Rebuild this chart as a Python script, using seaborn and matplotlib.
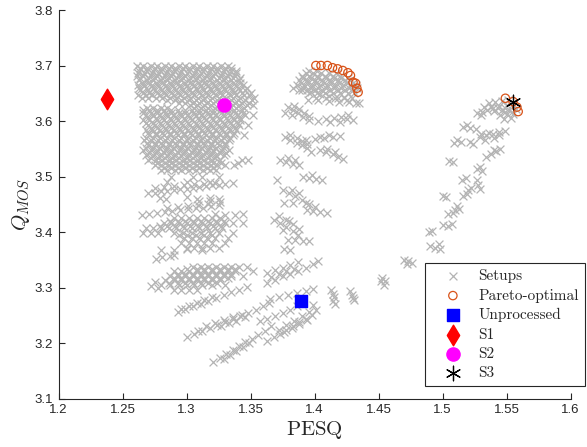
import matplotlib
matplotlib.use("Agg")
import matplotlib.pyplot as plt
import seaborn as sns
import pandas as pd

# ---------------- data (PESQ, Q_MOS) ----------------
# left cluster: rows of setups (Q_MOS level, PESQ values)
left_rows = [
    (3.700, [1.261, 1.266, 1.272, 1.277, 1.283, 1.288, 1.294, 1.299, 1.305, 1.310, 1.316, 1.321, 1.327, 1.332]),
    (3.696, [1.264, 1.269, 1.275, 1.280, 1.286, 1.291, 1.297, 1.302, 1.308, 1.313, 1.319, 1.324, 1.330, 1.335]),
    (3.691, [1.263, 1.269, 1.274, 1.280, 1.285, 1.291, 1.296, 1.302, 1.307, 1.313, 1.318, 1.324, 1.329, 1.335, 1.339]),
    (3.687, [1.262, 1.267, 1.273, 1.278, 1.284, 1.289, 1.295, 1.300, 1.306, 1.311, 1.317, 1.322, 1.328, 1.333, 1.339]),
    (3.682, [1.261, 1.266, 1.272, 1.277, 1.283, 1.288, 1.294, 1.299, 1.305, 1.310, 1.316, 1.321, 1.327, 1.332, 1.338]),
    (3.678, [1.264, 1.270, 1.275, 1.281, 1.286, 1.292, 1.297, 1.303, 1.308, 1.314, 1.319, 1.325, 1.330, 1.336, 1.342]),
    (3.673, [1.263, 1.269, 1.274, 1.280, 1.285, 1.291, 1.296, 1.302, 1.307, 1.313, 1.318, 1.324, 1.329, 1.335, 1.341]),
    (3.669, [1.265, 1.270, 1.276, 1.281, 1.287, 1.292, 1.298, 1.303, 1.309, 1.314, 1.320, 1.325, 1.331, 1.336, 1.342]),
    (3.664, [1.262, 1.267, 1.273, 1.278, 1.284, 1.289, 1.295, 1.300, 1.306, 1.311, 1.317, 1.322, 1.328, 1.333, 1.339, 1.344]),
    (3.660, [1.263, 1.268, 1.274, 1.279, 1.285, 1.290, 1.296, 1.301, 1.307, 1.312, 1.318, 1.323, 1.329, 1.334, 1.340, 1.347]),
    (3.655, [1.264, 1.270, 1.275, 1.281, 1.286, 1.292, 1.297, 1.303, 1.308, 1.314, 1.319, 1.325, 1.330, 1.336, 1.342, 1.346]),
    (3.651, [1.266, 1.271, 1.277, 1.282, 1.288, 1.293, 1.299, 1.304, 1.310, 1.315, 1.321, 1.326, 1.332, 1.337, 1.343, 1.350]),
    (3.646, [1.262, 1.268, 1.273, 1.279, 1.284, 1.290, 1.295, 1.301, 1.306, 1.312, 1.317, 1.323, 1.328, 1.334, 1.339, 1.345, 1.349]),
    (3.642, [1.265, 1.270, 1.276, 1.281, 1.287, 1.292, 1.298, 1.303, 1.309, 1.314, 1.320, 1.325, 1.331, 1.336, 1.342, 1.353]),
    (3.637, [1.285, 1.291, 1.296, 1.302, 1.307, 1.313, 1.318, 1.324, 1.329, 1.335, 1.340, 1.346, 1.351]),
    (3.633, [1.294, 1.299, 1.305, 1.310, 1.316, 1.321, 1.327, 1.332, 1.338, 1.343, 1.349]),
    (3.628, [1.303, 1.308, 1.314, 1.319, 1.325, 1.330, 1.336, 1.341, 1.347, 1.352]),
    (3.624, [1.269, 1.274, 1.280, 1.285, 1.306, 1.311, 1.317, 1.322, 1.328, 1.333, 1.339, 1.345]),
    (3.619, [1.266, 1.271, 1.277, 1.282, 1.288, 1.293, 1.299, 1.304, 1.310, 1.315, 1.321, 1.326, 1.332, 1.337, 1.343]),
    (3.615, [1.266, 1.272, 1.277, 1.283, 1.288, 1.294, 1.299, 1.305, 1.310, 1.316, 1.321, 1.327, 1.332, 1.338, 1.344]),
    (3.610, [1.268, 1.274, 1.279, 1.285, 1.290, 1.296, 1.301, 1.307, 1.312, 1.318, 1.323, 1.329, 1.334, 1.340, 1.346, 1.352]),
    (3.606, [1.270, 1.276, 1.281, 1.287, 1.292, 1.298, 1.303, 1.309, 1.314, 1.320, 1.325, 1.331, 1.336, 1.342]),
    (3.601, [1.266, 1.271, 1.277, 1.282, 1.288, 1.293, 1.299, 1.304, 1.310, 1.315, 1.321, 1.326, 1.332, 1.337, 1.342]),
    (3.597, [1.268, 1.274, 1.279, 1.285, 1.290, 1.296, 1.301, 1.307, 1.312, 1.318, 1.323, 1.329, 1.334, 1.340]),
    (3.592, [1.270, 1.275, 1.281, 1.286, 1.292, 1.297, 1.303, 1.308, 1.314, 1.319, 1.325, 1.330, 1.336, 1.341, 1.348]),
    (3.588, [1.272, 1.277, 1.283, 1.288, 1.294, 1.299, 1.305, 1.310, 1.316, 1.321, 1.327, 1.332, 1.338]),
    (3.583, [1.268, 1.273, 1.279, 1.284, 1.290, 1.295, 1.301, 1.306, 1.312, 1.317, 1.323, 1.328, 1.334, 1.339]),
    (3.579, [1.270, 1.276, 1.281, 1.287, 1.292, 1.298, 1.303, 1.309, 1.314, 1.320, 1.325, 1.331, 1.337]),
    (3.574, [1.271, 1.276, 1.282, 1.287, 1.293, 1.298, 1.304, 1.309, 1.315, 1.320, 1.326, 1.331, 1.336, 1.345]),
    (3.570, [1.268, 1.274, 1.279, 1.285, 1.290, 1.296, 1.301, 1.307, 1.312, 1.318, 1.323, 1.329, 1.334]),
    (3.565, [1.267, 1.272, 1.278, 1.283, 1.289, 1.294, 1.300, 1.305, 1.311, 1.316, 1.322, 1.327, 1.333]),
    (3.561, [1.269, 1.275, 1.280, 1.286, 1.291, 1.297, 1.302, 1.308, 1.313, 1.319, 1.324, 1.330]),
    (3.557, [1.270, 1.275, 1.281, 1.286, 1.292, 1.297, 1.303, 1.308, 1.314, 1.319, 1.325, 1.330]),
    (3.552, [1.268, 1.274, 1.279, 1.285, 1.290, 1.296, 1.301, 1.307, 1.312, 1.318, 1.323, 1.329]),
    (3.548, [1.266, 1.272, 1.277, 1.283, 1.288, 1.294, 1.299, 1.305, 1.310, 1.316, 1.321, 1.327, 1.333]),
    (3.543, [1.271, 1.276, 1.282, 1.287, 1.293, 1.298, 1.304, 1.309, 1.315, 1.320, 1.326, 1.331]),
    (3.539, [1.268, 1.274, 1.279, 1.285, 1.290, 1.296, 1.301, 1.307, 1.312, 1.318, 1.323, 1.329]),
    (3.534, [1.272, 1.278, 1.283, 1.289, 1.294, 1.300, 1.305, 1.311, 1.317, 1.322]),
    (3.530, [1.270, 1.276, 1.281, 1.287, 1.292, 1.298, 1.303, 1.309, 1.314, 1.320, 1.326, 1.343, 1.348]),
    (3.525, [1.277, 1.283, 1.288, 1.294, 1.299, 1.305, 1.310, 1.316, 1.321, 1.327, 1.340]),
    (3.521, [1.275, 1.280, 1.286, 1.291, 1.297, 1.302, 1.308, 1.313, 1.319, 1.324, 1.330, 1.337]),
    (3.516, [1.282, 1.288, 1.293, 1.299, 1.304, 1.310, 1.316, 1.321]),
    (3.512, [1.280, 1.285, 1.291, 1.296, 1.302, 1.307, 1.313, 1.318, 1.323]),
    (3.500, [1.288, 1.305, 1.312, 1.325]),
    (3.490, [1.285, 1.300, 1.318]),
    (3.425, [1.290, 1.296, 1.302, 1.308, 1.314, 1.320, 1.326]),
    (3.420, [1.287, 1.293, 1.299, 1.305, 1.311, 1.317, 1.323, 1.329]),
    (3.416, [1.282, 1.288, 1.294, 1.300, 1.306, 1.312, 1.318, 1.324, 1.330, 1.336, 1.344]),
    (3.411, [1.279, 1.285, 1.291, 1.297, 1.303, 1.309, 1.315, 1.321, 1.327]),
    (3.407, [1.268, 1.274, 1.280, 1.286, 1.292, 1.298, 1.304, 1.310, 1.316, 1.322, 1.328]),
    (3.399, [1.266, 1.272, 1.278, 1.290, 1.297, 1.304, 1.311, 1.318, 1.325, 1.336]),
    (3.394, [1.294, 1.300, 1.307, 1.314, 1.320]),
    (3.390, [1.298, 1.304, 1.310, 1.316, 1.322, 1.332]),
    (3.381, [1.296, 1.302, 1.308, 1.314, 1.320, 1.330]),
    (3.372, [1.300, 1.306, 1.312, 1.318, 1.325]),
    (3.368, [1.280, 1.290]),
    (3.337, [1.305, 1.311, 1.317, 1.323, 1.329, 1.335, 1.341, 1.347]),
    (3.333, [1.300, 1.308, 1.314, 1.320, 1.326, 1.332, 1.338]),
    (3.329, [1.290, 1.296, 1.302, 1.308, 1.314, 1.320, 1.326, 1.332, 1.338, 1.352]),
    (3.325, [1.293, 1.299, 1.305, 1.311, 1.317, 1.323, 1.329, 1.335]),
    (3.321, [1.287, 1.293, 1.299, 1.305, 1.311, 1.317, 1.323, 1.329, 1.335, 1.344]),
    (3.317, [1.290, 1.296, 1.302, 1.308, 1.314, 1.320, 1.326, 1.332]),
    (3.313, [1.283, 1.290, 1.296, 1.302, 1.308, 1.314, 1.320, 1.326]),
    (3.308, [1.286, 1.293, 1.299, 1.305, 1.311, 1.317, 1.324]),
    (3.304, [1.280, 1.287, 1.294, 1.300, 1.306, 1.312, 1.320, 1.330]),
    (3.295, [1.290, 1.296, 1.302, 1.308]),
]

# individual setups (sloped strands)
left_points = [
    (1.270, 3.470), (1.275, 3.471), (1.280, 3.473), (1.285, 3.474), (1.290, 3.476), (1.295, 3.477),
    (1.300, 3.478), (1.305, 3.480), (1.310, 3.481), (1.315, 3.483), (1.320, 3.484), (1.325, 3.485),
    (1.330, 3.486), (1.336, 3.488), (1.275, 3.479), (1.282, 3.481), (1.290, 3.482), (1.298, 3.484),
    (1.306, 3.486), (1.314, 3.487), (1.322, 3.489),
    (1.279, 3.462), (1.284, 3.460), (1.300, 3.463), (1.308, 3.460), (1.318, 3.462), (1.325, 3.459),
    (1.265, 3.431), (1.271, 3.432), (1.277, 3.434), (1.283, 3.436), (1.289, 3.437), (1.295, 3.439),
    (1.301, 3.441), (1.307, 3.443), (1.313, 3.444), (1.319, 3.446), (1.325, 3.448),
    (1.285, 3.443), (1.293, 3.445), (1.301, 3.447), (1.309, 3.449), (1.317, 3.450),
    (1.310, 3.455), (1.318, 3.455), (1.326, 3.454),
    (1.322, 3.432), (1.330, 3.431), (1.338, 3.430), (1.344, 3.432),
    (1.276, 3.352), (1.281, 3.355), (1.287, 3.357), (1.290, 3.359), (1.300, 3.369), (1.312, 3.368),
    (1.275, 3.310), (1.272, 3.303), (1.278, 3.300),
    (1.293, 3.256), (1.299, 3.261), (1.305, 3.266), (1.311, 3.271), (1.317, 3.276), (1.323, 3.281),
    (1.329, 3.286), (1.335, 3.291), (1.341, 3.296), (1.347, 3.301),
    (1.296, 3.262), (1.302, 3.267), (1.308, 3.272), (1.314, 3.277), (1.320, 3.282),
    (1.300, 3.211), (1.306, 3.216), (1.312, 3.222), (1.318, 3.227), (1.324, 3.232), (1.330, 3.237),
    (1.336, 3.243), (1.342, 3.248), (1.348, 3.254), (1.354, 3.260), (1.360, 3.266), (1.364, 3.272),
    (1.315, 3.230), (1.322, 3.236), (1.329, 3.241), (1.336, 3.246), (1.343, 3.251),
    (1.309, 3.222), (1.327, 3.231), (1.333, 3.236), (1.339, 3.240), (1.346, 3.247),
    (1.321, 3.166), (1.326, 3.173), (1.331, 3.180), (1.336, 3.187), (1.341, 3.194), (1.346, 3.201),
    (1.351, 3.208), (1.356, 3.215), (1.361, 3.222), (1.366, 3.230),
    (1.329, 3.172), (1.334, 3.179), (1.339, 3.186), (1.344, 3.193), (1.349, 3.200),
    (1.363, 3.327), (1.369, 3.331), (1.375, 3.336), (1.381, 3.341), (1.387, 3.346),
    (1.363, 3.309), (1.369, 3.314), (1.375, 3.320), (1.381, 3.325), (1.387, 3.330), (1.393, 3.336),
    (1.399, 3.342), (1.403, 3.348),
    (1.366, 3.319), (1.372, 3.324), (1.378, 3.329), (1.384, 3.334),
    (1.365, 3.279), (1.372, 3.282), (1.379, 3.286), (1.386, 3.290), (1.393, 3.293), (1.399, 3.297),
    (1.357, 3.240), (1.363, 3.244), (1.369, 3.249), (1.375, 3.254), (1.381, 3.259), (1.386, 3.266),
    (1.363, 3.204), (1.368, 3.210), (1.373, 3.217), (1.378, 3.223), (1.383, 3.230), (1.388, 3.237),
    (1.393, 3.244), (1.398, 3.251), (1.401, 3.260), (1.399, 3.268),
    (1.372, 3.224), (1.378, 3.232), (1.384, 3.240), (1.390, 3.248), (1.396, 3.256),
    (1.376, 3.220), (1.382, 3.227), (1.388, 3.234), (1.394, 3.241),
    (1.413, 3.296), (1.414, 3.289), (1.415, 3.282), (1.414, 3.275), (1.416, 3.270),
    (1.428, 3.293), (1.429, 3.287), (1.430, 3.281), (1.431, 3.277),
]

mid_rows = [
    (3.690, [1.396, 1.402]),
    (3.686, [1.393, 1.399, 1.405, 1.411, 1.417]),
    (3.682, [1.390, 1.396, 1.402, 1.408, 1.414, 1.420]),
    (3.677, [1.391, 1.397, 1.403, 1.409, 1.415, 1.421, 1.426]),
    (3.673, [1.388, 1.394, 1.400, 1.406, 1.412, 1.418, 1.424, 1.428]),
    (3.668, [1.389, 1.395, 1.401, 1.407, 1.413, 1.419, 1.425, 1.430]),
    (3.664, [1.386, 1.392, 1.398, 1.404, 1.410, 1.416, 1.422, 1.428, 1.432]),
    (3.659, [1.391, 1.397, 1.403, 1.409, 1.415, 1.421, 1.427, 1.433]),
    (3.655, [1.388, 1.394, 1.400, 1.406, 1.412, 1.418, 1.424, 1.430]),
    (3.650, [1.396, 1.402, 1.408, 1.414, 1.420, 1.426, 1.431]),
    (3.642, [1.401, 1.409, 1.416, 1.423, 1.429]),
]

mid_points = [
    (1.383, 3.660), (1.390, 3.656), (1.397, 3.652), (1.404, 3.648), (1.411, 3.645), (1.418, 3.641),
    (1.425, 3.637), (1.432, 3.633),
    (1.395, 3.638), (1.403, 3.637), (1.411, 3.636), (1.419, 3.635), (1.427, 3.634), (1.435, 3.632),
    (1.379, 3.626), (1.383, 3.620), (1.387, 3.614), (1.391, 3.608), (1.396, 3.601), (1.377, 3.615), (1.382, 3.610),
    (1.384, 3.627), (1.388, 3.621), (1.392, 3.615), (1.396, 3.609),
    (1.403, 3.600), (1.409, 3.603), (1.415, 3.605), (1.421, 3.608), (1.426, 3.611), (1.420, 3.598), (1.430, 3.602),
    (1.412, 3.598), (1.425, 3.604),
    (1.393, 3.565), (1.400, 3.567), (1.407, 3.569), (1.414, 3.571), (1.420, 3.573), (1.404, 3.572), (1.411, 3.575),
    (1.377, 3.571), (1.381, 3.566), (1.386, 3.561), (1.390, 3.556), (1.394, 3.551), (1.397, 3.545),
    (1.381, 3.574), (1.386, 3.569), (1.390, 3.564), (1.394, 3.558),
    (1.404, 3.548), (1.409, 3.544), (1.414, 3.540), (1.418, 3.536), (1.422, 3.532), (1.410, 3.550), (1.416, 3.545),
    (1.373, 3.530), (1.378, 3.527), (1.383, 3.523), (1.388, 3.520), (1.379, 3.533), (1.385, 3.529),
    (1.391, 3.500), (1.396, 3.498), (1.401, 3.496), (1.406, 3.494), (1.371, 3.494), (1.398, 3.503),
    (1.375, 3.476), (1.380, 3.470), (1.385, 3.464), (1.390, 3.458), (1.393, 3.452), (1.382, 3.476), (1.388, 3.470),
    (1.376, 3.453), (1.383, 3.452), (1.396, 3.451),
    (1.394, 3.440), (1.399, 3.438), (1.404, 3.436), (1.410, 3.434), (1.400, 3.445),
    (1.368, 3.422), (1.373, 3.416), (1.378, 3.409), (1.383, 3.402), (1.387, 3.395), (1.380, 3.420), (1.375, 3.403),
    (1.372, 3.428), (1.378, 3.422), (1.383, 3.414), (1.388, 3.405),
    (1.379, 3.386), (1.385, 3.385), (1.391, 3.384), (1.396, 3.383),
    (1.376, 3.370), (1.381, 3.368),
]

right_points = [
    (1.527, 3.614), (1.531, 3.617), (1.535, 3.620), (1.539, 3.624), (1.530, 3.610),
    (1.536, 3.632), (1.541, 3.634), (1.546, 3.636), (1.551, 3.637),
    (1.532, 3.626), (1.538, 3.625), (1.544, 3.627), (1.550, 3.629), (1.555, 3.630),
    (1.540, 3.618), (1.546, 3.619), (1.552, 3.620), (1.557, 3.622),
    (1.545, 3.611), (1.550, 3.612), (1.555, 3.613), (1.548, 3.604), (1.553, 3.606),
    (1.543, 3.623), (1.549, 3.624), (1.554, 3.617), (1.549, 3.616),
    (1.516, 3.589), (1.521, 3.587), (1.526, 3.585), (1.519, 3.592),
    (1.529, 3.572), (1.534, 3.574), (1.539, 3.577), (1.544, 3.580), (1.549, 3.582), (1.533, 3.566), (1.540, 3.570),
    (1.536, 3.579), (1.544, 3.575), (1.530, 3.577),
    (1.511, 3.565), (1.514, 3.562), (1.521, 3.562), (1.524, 3.558), (1.509, 3.561),
    (1.534, 3.535), (1.538, 3.540), (1.542, 3.546), (1.545, 3.550), (1.540, 3.548),
    (1.508, 3.526), (1.505, 3.528), (1.527, 3.514), (1.531, 3.510), (1.529, 3.518),
    (1.515, 3.494), (1.518, 3.497), (1.527, 3.494), (1.528, 3.485), (1.529, 3.478),
    (1.520, 3.476), (1.522, 3.480), (1.500, 3.465), (1.503, 3.463), (1.516, 3.465), (1.519, 3.468),
    (1.511, 3.446), (1.513, 3.442), (1.508, 3.435), (1.504, 3.433), (1.510, 3.439),
    (1.504, 3.410), (1.500, 3.412), (1.507, 3.414), (1.492, 3.402), (1.489, 3.400),
    (1.490, 3.374), (1.494, 3.372), (1.498, 3.370), (1.497, 3.379),
    (1.473, 3.347), (1.470, 3.350), (1.476, 3.344), (1.472, 3.343),
    (1.453, 3.318), (1.452, 3.312), (1.454, 3.305), (1.455, 3.311),
]

pareto_pesq = [1.401, 1.405, 1.410, 1.414, 1.418, 1.422, 1.426, 1.428, 1.430, 1.432, 1.433, 1.434,
               1.549, 1.555, 1.558, 1.559]
pareto_qmos = [3.700, 3.700, 3.700, 3.696, 3.694, 3.691, 3.687, 3.682, 3.670, 3.668, 3.659, 3.652,
               3.641, 3.635, 3.625, 3.617]

unprocessed = (1.389, 3.275)
s1 = (1.238, 3.640)
s2 = (1.329, 3.628)
s3 = (1.555, 3.635)

x_ticks = [1.2, 1.25, 1.3, 1.35, 1.4, 1.45, 1.5, 1.55, 1.6]
x_tick_labels = ["1.2", "1.25", "1.3", "1.35", "1.4", "1.45", "1.5", "1.55", "1.6"]
y_ticks = [3.1, 3.2, 3.3, 3.4, 3.5, 3.6, 3.7, 3.8]
y_tick_labels = ["3.1", "3.2", "3.3", "3.4", "3.5", "3.6", "3.7", "3.8"]

# ---------------- build tables ----------------
setup_x, setup_y = [], []
for yv, xs in left_rows + mid_rows:
    for xv in xs:
        setup_x.append(xv)
        setup_y.append(yv)
for xv, yv in left_points + mid_points + right_points:
    setup_x.append(xv)
    setup_y.append(yv)
setups = pd.DataFrame({"PESQ": setup_x, "QMOS": setup_y})
pareto = pd.DataFrame({"PESQ": pareto_pesq, "QMOS": pareto_qmos})

# ---------------- plot ----------------
sns.set_style("ticks")
plt.rcParams["font.family"] = ["Liberation Sans", "DejaVu Sans"]
plt.rcParams["mathtext.fontset"] = "cm"

fig = plt.figure(figsize=(5.87, 4.47), dpi=100)
ax = fig.add_axes([0.0997, 0.1085, 0.8725, 0.8691])

dark = "#262626"
gray = "#b4b4b4"
orange = "#D95319"

sns.scatterplot(data=setups, x="PESQ", y="QMOS", marker="x", color=gray, s=32,
                linewidth=0.9, ax=ax, label="Setups", zorder=2)
ax.scatter(pareto["PESQ"], pareto["QMOS"], marker="o", s=36, facecolors="none",
           edgecolors=orange, linewidths=0.9, label="Pareto-optimal", zorder=3)
ax.scatter([unprocessed[0]], [unprocessed[1]], marker="s", s=70, color="#0000ff",
           label="Unprocessed", zorder=4)
ax.scatter([s1[0]], [s1[1]], marker="d", s=110, color="#ff0000", label="S1", zorder=4)
ax.scatter([s2[0]], [s2[1]], marker="o", s=90, color="#ff00ff", label="S2", zorder=4)
ax.scatter([s3[0]], [s3[1]], marker=(6, 2, 0), s=110, color="black", linewidths=0.9,
           label="S3", zorder=5)

ax.set_xlim(1.2, 1.6)
ax.set_ylim(3.1, 3.8)
ax.set_xticks(x_ticks)
ax.set_xticklabels(x_tick_labels)
ax.set_yticks(y_ticks)
ax.set_yticklabels(y_tick_labels)
ax.tick_params(direction="in", length=4, width=0.8, colors=dark, labelsize=9.5, pad=4)
sns.despine(ax=ax)
for sp in ["left", "bottom"]:
    ax.spines[sp].set_color(dark)
    ax.spines[sp].set_linewidth(0.8)

ax.set_xlabel(r"$\mathrm{PESQ}$", fontsize=15, color=dark, labelpad=2)
ax.set_ylabel(r"$Q_{MOS}$", fontsize=15, color=dark, labelpad=2)

leg = ax.legend(loc="upper left", bbox_to_anchor=(425 / 587, 1 - 263 / 447),
                bbox_transform=fig.transFigure, prop={"family": "cmr10", "size": 11},
                frameon=True, fancybox=False, edgecolor=dark, framealpha=1,
                borderpad=0.4, labelspacing=0.36, handlelength=2.85, handletextpad=0.25,
                borderaxespad=0)
leg.get_frame().set_linewidth(0.8)

fig.savefig("out.png", dpi=100)
